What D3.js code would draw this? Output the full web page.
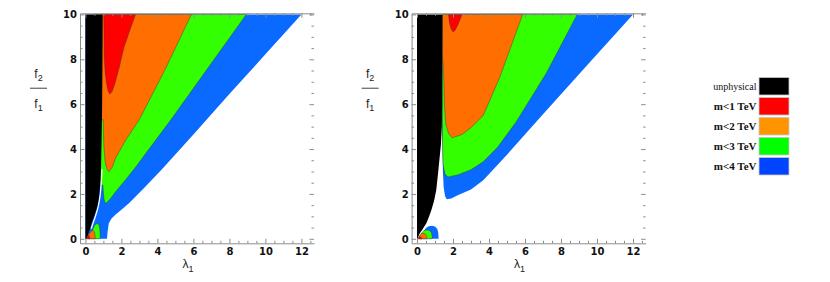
<!DOCTYPE html>
<html>
<head>
<meta charset="utf-8">
<script src="https://d3js.org/d3.v7.min.js"></script>
<style>
  body { margin: 0; background: #fff; }
  svg { display: block; }
</style>
</head>
<body>
<div id="vis"></div>
<script>
// tick labels
var xTicks = [0, 2, 4, 6, 8, 10, 12];
var yTicks = [0, 2, 4, 6, 8, 10];

// legend
var legendLabels = ["unphysical", "m<1 TeV", "m<2 TeV", "m<3 TeV", "m<4 TeV"];
var legendColors = ["#000000", "#ff0000", "#ff9400", "#00ff00", "#0044ff"];

// region outlines, [lambda1, f2/f1]
// left panel
var p1Black = [[0,10],[0.96,10],[0.95,8],[0.93,6],[0.9,4.4],[0.87,3.2],[0.84,2.6],[0.76,1.87],[0.66,1.43],[0.48,0.98],[0.35,0.7],[0.24,0.39],[0.12,0.15],[0.03,0],[0,0]];
var p1Gap = [[0.92,3.1],[0.89,2.55],[0.82,1.9],[0.72,1.45],[0.56,1.0],[0.43,0.72],[0.32,0.45]];
var p1Blue = [[0,10],[0,0],[1.2,0],[1.23,0.3],[1.3,0.69],[1.45,0.9],[1.68,1.08],[2.0,1.3],[2.42,1.58],[3.3,2.3],[4.28,3.12],[6,4.65],[8,6.45],[10,8.22],[12,10]];
var p1Green = [[0.5,10],[0.5,2.4],[0.97,2.4],[1.0,2.05],[1.04,1.75],[1.09,1.58],[1.2,1.62],[1.4,1.8],[1.68,2.1],[2.2,2.6],[2.8,3.2],[3.35,3.8],[4.74,5.29],[6.8,7.6],[8.94,10]];
var p1Orange = [[0.5,10],[0.5,5.3],[0.99,5.3],[1.02,4.2],[1.1,3.4],[1.2,3.1],[1.31,2.99],[1.5,3.2],[1.68,3.6],[2.24,4.4],[2.98,5.29],[4.4,7.5],[5.89,10]];
var p1Red = [[1.02,10],[1.05,8.05],[1.1,7.4],[1.16,7.0],[1.25,6.62],[1.35,6.45],[1.48,6.55],[1.67,7.0],[1.9,7.7],[2.13,8.5],[2.45,9.25],[2.78,10]];
var p1GreenLobe = [[0.3,0],[0.4,0.4],[0.52,0.6],[0.65,0.69],[0.75,0.63],[0.8,0.45],[0.82,0.2],[0.82,0]];
var p1OrangeLobe = [[0.12,0],[0.2,0.2],[0.3,0.33],[0.42,0.38],[0.5,0.3],[0.54,0.15],[0.55,0]];
var p1RedLobe = [[0.02,0],[0.08,0.1],[0.16,0.15],[0.23,0.1],[0.26,0]];

// right panel
var p2Black = [[0,10],[1.41,10],[1.4,6],[1.38,5],[1.33,4.2],[1.26,3.65],[1.18,3.0],[1.07,2.17],[0.95,1.7],[0.8,1.28],[0.65,0.95],[0.52,0.69],[0.3,0.42],[0.15,0.24],[0.05,0.06],[0.02,0],[0,0]];
var p2Blue = [[1.42,10],[1.41,6],[1.39,5.0],[1.42,4],[1.44,3],[1.48,2.3],[1.56,1.9],[1.65,1.76],[1.9,1.8],[2.29,1.95],[3.0,2.2],[3.68,2.61],[5,3.75],[7,5.55],[9.5,7.78],[12,10]];
var p2Green = [[1.42,10],[1.41,6],[1.42,4.2],[1.45,3.3],[1.55,2.9],[1.65,2.8],[1.75,2.76],[2.3,2.86],[3.0,3.08],[3.68,3.43],[4.5,4.1],[5.5,5.2],[7.2,7.4],[8.9,10]];
var p2Orange = [[1.41,10],[1.41,8.2],[1.46,7.6],[1.49,7],[1.52,6],[1.6,5.1],[1.75,4.7],[1.95,4.5],[2.5,4.65],[3.0,4.95],[3.68,5.5],[4.6,7.2],[5.87,10]];
var p2Red = [[1.75,10],[1.8,9.65],[1.88,9.38],[2.0,9.22],[2.12,9.3],[2.3,9.58],[2.5,10]];
var p2BlueLobe = [[0.2,0],[0.35,0.32],[0.5,0.48],[0.65,0.56],[0.85,0.58],[1.02,0.54],[1.13,0.43],[1.18,0.28],[1.2,0]];
var p2GreenLobe = [[0.15,0],[0.25,0.25],[0.4,0.37],[0.55,0.4],[0.7,0.37],[0.8,0.27],[0.84,0.12],[0.84,0]];
var p2OrangeLobe = [[0.1,0],[0.15,0.15],[0.25,0.23],[0.38,0.25],[0.48,0.2],[0.54,0.1],[0.55,0]];
var p2RedLobe = [[0.05,0],[0.08,0.07],[0.15,0.1],[0.22,0.08],[0.26,0.03],[0.27,0]];

var blue = "#0a6aff", green = "#33ff00", orange = "#ff6e00", red = "#ff0000";

var panels = [
  { left: 80,
    layers: [[p1Blue, blue], [p1Green, green], [p1Orange, orange], [p1Red, red],
             [p1GreenLobe, green], [p1OrangeLobe, orange], [p1RedLobe, red]],
    gap: p1Gap, black: p1Black },
  { left: 411.6,
    layers: [[p2Blue, blue], [p2Green, green], [p2Orange, orange], [p2Red, red],
             [p2BlueLobe, blue], [p2GreenLobe, green], [p2OrangeLobe, orange], [p2RedLobe, red]],
    gap: null, black: p2Black }
];

var width = 830, height = 282;
var svg = d3.select("#vis").append("svg")
  .attr("width", width)
  .attr("height", height);
svg.append("rect").attr("width", width).attr("height", height).attr("fill", "#fff");

var pw = 234, plotTop = 13.3, plotBottom = 243.3;
var frameColor = "#8c8c8c";
var numFont = "'DejaVu Sans', sans-serif";

panels.forEach(function (p) {
  var x = d3.scaleLinear().domain([-0.3, 12.7]).range([p.left, p.left + pw]);
  var y = d3.scaleLinear().domain([-0.2, 10.05]).range([plotBottom, plotTop]);
  var line = d3.line().x(function (d) { return x(d[0]); }).y(function (d) { return y(d[1]); });

  var g = svg.append("g");

  // filled regions
  p.layers.forEach(function (l) {
    g.append("path")
      .attr("d", line(l[0]) + "Z")
      .attr("fill", l[1])
      .attr("stroke", l[1] == blue ? "none" : "#333")
      .attr("stroke-opacity", 0.7)
      .attr("stroke-width", 0.6);
  });

  if (p.gap) {
    g.append("path")
      .attr("d", d3.line().curve(d3.curveBasis).x(function (d) { return x(d[0]); }).y(function (d) { return y(d[1]); })(p.gap))
      .attr("fill", "none")
      .attr("stroke", "#fff")
      .attr("stroke-width", 1.3);
  }

  g.append("path")
    .attr("d", line(p.black) + "Z")
    .attr("fill", "#000");

  // frame + ticks
  var minor = d3.range(0, 12.51, 0.5).filter(function (v) { return v % 2 != 0; });
  var minorY = d3.range(0, 10.01, 0.5).filter(function (v) { return v % 2 != 0; });

  function styleAxis(sel, keepDomain) {
    sel.selectAll("line").attr("stroke", frameColor);
    sel.select(".domain").attr("stroke", frameColor);
    if (!keepDomain) sel.select(".domain").remove();
    sel.selectAll("text")
      .attr("font-family", numFont)
      .attr("font-weight", "bold")
      .attr("font-size", "10px")
      .attr("fill", "#111");
  }

  styleAxis(svg.append("g").attr("transform", "translate(0," + plotBottom + ")")
    .call(d3.axisBottom(x).tickValues(xTicks).tickSize(-4.5).tickSizeOuter(0).tickPadding(5)), true);
  styleAxis(svg.append("g").attr("transform", "translate(0," + plotBottom + ")")
    .call(d3.axisBottom(x).tickValues(minor).tickSize(-2.5).tickFormat("")), false);
  styleAxis(svg.append("g").attr("transform", "translate(" + p.left + ",0)")
    .call(d3.axisLeft(y).tickValues(yTicks).tickSize(-4.5).tickSizeOuter(0).tickPadding(3)), true);
  styleAxis(svg.append("g").attr("transform", "translate(" + p.left + ",0)")
    .call(d3.axisLeft(y).tickValues(minorY).tickSize(-2.5).tickFormat("")), false);
  styleAxis(svg.append("g").attr("transform", "translate(0," + plotTop + ")")
    .call(d3.axisTop(x).tickValues(xTicks).tickSize(-4.5).tickSizeOuter(0).tickFormat("")), true);
  styleAxis(svg.append("g").attr("transform", "translate(0," + plotTop + ")")
    .call(d3.axisTop(x).tickValues(minor).tickSize(-2.5).tickFormat("")), false);
  styleAxis(svg.append("g").attr("transform", "translate(" + (p.left + pw) + ",0)")
    .call(d3.axisRight(y).tickValues(yTicks).tickSize(-4.5).tickFormat("")), false);
  styleAxis(svg.append("g").attr("transform", "translate(" + (p.left + pw) + ",0)")
    .call(d3.axisRight(y).tickValues(minorY).tickSize(-2.5).tickFormat("")), false);

  // x label: lambda_1
  var xl = svg.append("text")
    .attr("x", p.left + 108)
    .attr("y", 268)
    .attr("text-anchor", "middle")
    .attr("font-family", "'Liberation Sans', Arial, sans-serif")
    .attr("font-size", "12px")
    .attr("fill", "#222");
  xl.append("tspan").text("λ");
  xl.append("tspan").attr("dy", 4).attr("font-size", "9px").text("1");

  // y label: f2 / f1
  var cx = p.left - 41.5;
  var f2 = svg.append("text").attr("x", cx).attr("y", 77.5)
    .attr("text-anchor", "middle")
    .attr("font-family", "'Liberation Sans', Arial, sans-serif")
    .attr("font-size", "12px").attr("fill", "#222");
  f2.append("tspan").text("f");
  f2.append("tspan").attr("dy", 3.5).attr("font-size", "9px").text("2");
  svg.append("line")
    .attr("x1", cx - 8.5).attr("x2", cx + 8.5)
    .attr("y1", 88.3).attr("y2", 88.3)
    .attr("stroke", "#777").attr("stroke-width", 1.4);
  var f1 = svg.append("text").attr("x", cx).attr("y", 107.5)
    .attr("text-anchor", "middle")
    .attr("font-family", "'Liberation Sans', Arial, sans-serif")
    .attr("font-size", "12px").attr("fill", "#222");
  f1.append("tspan").text("f");
  f1.append("tspan").attr("dy", 3.5).attr("font-size", "9px").text("1");
});

// legend
var leg = svg.append("g");
legendLabels.forEach(function (lab, i) {
  var yy = 77.5 + i * 20;
  leg.append("rect")
    .attr("x", 759).attr("y", yy)
    .attr("width", 30).attr("height", 17.5)
    .attr("fill", legendColors[i])
    .attr("stroke", "#c8c8c8").attr("stroke-width", 0.8);
  leg.append("text")
    .attr("x", 756.5).attr("y", yy + 8.75)
    .attr("dy", "0.35em")
    .attr("text-anchor", "end")
    .attr("font-family", "'Liberation Serif', 'Times New Roman', serif")
    .attr("font-weight", i == 0 ? "normal" : "bold")
    .attr("font-size", i == 0 ? "10px" : "11px")
    .attr("fill", "#111")
    .text(lab);
});
</script>
</body>
</html>
